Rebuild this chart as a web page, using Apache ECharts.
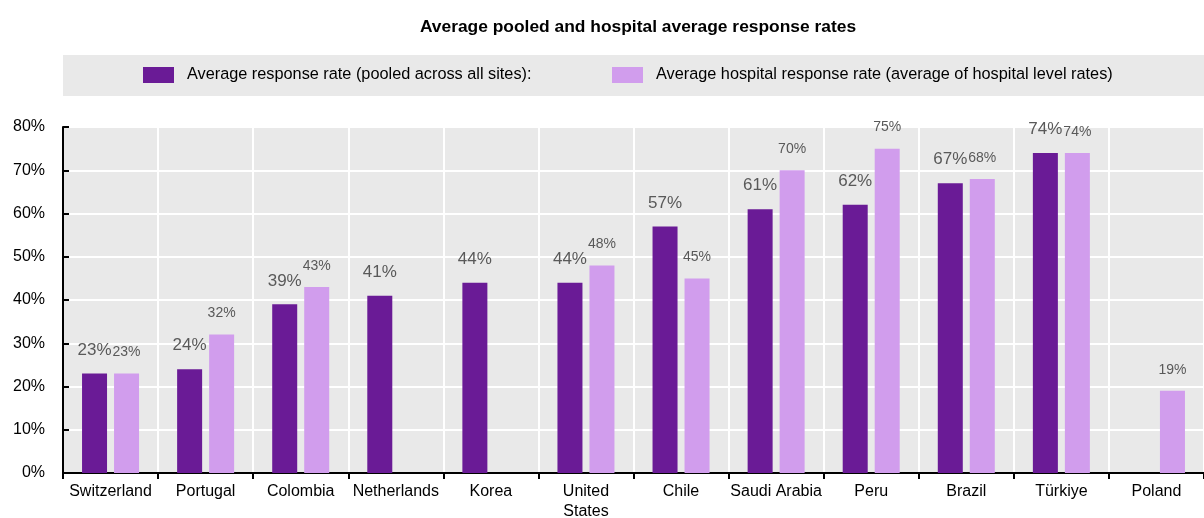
<!DOCTYPE html>
<html>
<head>
<meta charset="utf-8">
<script src="https://cdn.jsdelivr.net/npm/echarts@6/dist/echarts.min.js"></script>
<style>
  html, body { margin: 0; padding: 0; background: #fff; }
  #chart { width: 1204px; height: 518px; }
</style>
</head>
<body>
<div id="chart"></div>
<script>
const COUNTRIES = ['Switzerland', 'Portugal', 'Colombia', 'Netherlands', 'Korea', 'United\nStates',
  'Chile', 'Saudi Arabia', 'Peru', 'Brazil', 'Türkiye', 'Poland']
const POOLED = [23, 24, 39, 41, 44, 44, 57, 61, 62, 67, 74, null]
const HOSPITAL = [23, 32, 43, null, null, 48, 45, 70, 75, 68, 74, 19]
const Y_TICKS = [0, 10, 20, 30, 40, 50, 60, 70, 80]

const PURPLE = '#6a1b96'
const LAVENDER = '#d19ded'
const FONT = 'Liberation Sans, Arial, sans-serif'

const chart = echarts.init(document.getElementById('chart'))

const legendText = { fontSize: 16.3, color: '#000', fontFamily: FONT, padding: [0, 0, 0, 8] }

chart.setOption({
  animation: false,
  textStyle: { fontFamily: FONT },
  title: {
    text: 'Average pooled and hospital average response rates',
    left: 633,
    textAlign: 'center',
    top: 14,
    textStyle: { fontSize: 17.4, fontWeight: 'bold', color: '#000', fontFamily: FONT }
  },
  graphic: [{
    type: 'rect',
    shape: { x: 63, y: 55, width: 1141, height: 41 },
    style: { fill: '#e9e9e9' },
    z: -1
  }],
  legend: [
    {
      data: ['Average response rate (pooled across all sites):'],
      left: 138, top: 62,
      itemWidth: 31, itemHeight: 16,
      icon: 'rect',
      textStyle: legendText
    },
    {
      data: ['Average hospital response rate (average of hospital level rates)'],
      left: 607, top: 62,
      itemWidth: 31, itemHeight: 16,
      icon: 'rect',
      textStyle: legendText
    }
  ],
  grid: {
    left: 63, right: 0, top: 127, bottom: 45,
    outerBoundsMode: 'none',
    show: true, backgroundColor: '#e9e9e9', borderWidth: 0
  },
  xAxis: {
    type: 'category',
    data: COUNTRIES,
    axisLine: { lineStyle: { color: '#000', width: 2 } },
    axisTick: { show: true, length: 6, lineStyle: { color: '#000', width: 2 } },
    axisLabel: { color: '#000', fontSize: 16, fontFamily: FONT, margin: 9, interval: 0, lineHeight: 20 },
    splitLine: { show: true, lineStyle: { color: '#fff', width: 2 } }
  },
  yAxis: {
    type: 'value',
    min: Y_TICKS[0], max: Y_TICKS[Y_TICKS.length - 1], interval: 10,
    axisLine: { show: true, lineStyle: { color: '#000', width: 2 } },
    axisTick: { show: true, inside: true, length: 6, lineStyle: { color: '#000', width: 2 } },
    axisLabel: { color: '#000', fontSize: 16, fontFamily: FONT, margin: 18, formatter: '{value}%' },
    splitLine: { show: true, lineStyle: { color: '#fff', width: 2 } }
  },
  series: [
    {
      name: 'Average response rate (pooled across all sites):',
      type: 'bar',
      data: POOLED,
      barWidth: 25,
      barGap: '28%',
      itemStyle: { color: PURPLE },
      label: {
        show: true, position: 'top', distance: 15,
        formatter: '{c}%', fontSize: 17, color: '#595959', fontFamily: FONT
      }
    },
    {
      name: 'Average hospital response rate (average of hospital level rates)',
      type: 'bar',
      data: HOSPITAL,
      barWidth: 25,
      itemStyle: { color: LAVENDER },
      label: {
        show: true, position: 'top', distance: 14,
        formatter: '{c}%', fontSize: 14, color: '#595959', fontFamily: FONT
      }
    }
  ]
})
</script>
</body>
</html>
